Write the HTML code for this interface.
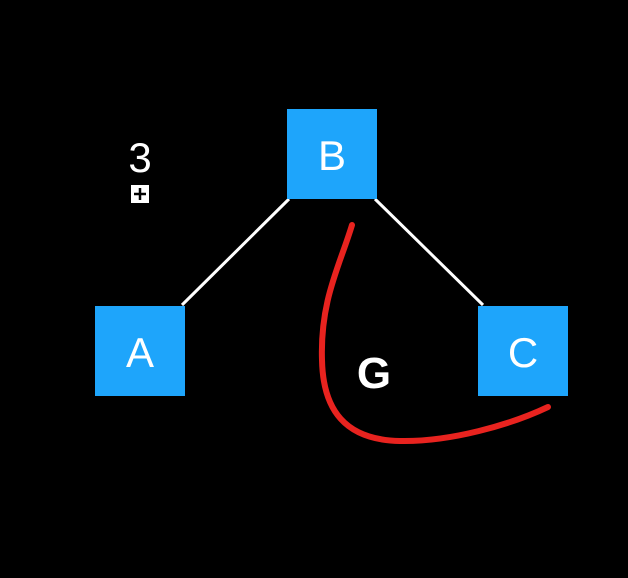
<!DOCTYPE html>
<html><head><style>body{margin:0;background:#000;}svg{display:block}</style></head>
<body>
<svg width="628" height="578" xmlns="http://www.w3.org/2000/svg">
<rect width="628" height="578" fill="#000"/>
<line x1="289" y1="199" x2="182" y2="305" stroke="#fff" stroke-width="3"/>
<line x1="375" y1="199" x2="483" y2="305" stroke="#fff" stroke-width="3"/>
<rect x="287" y="109" width="90" height="90" fill="#1ea5fb"/>
<rect x="95" y="306" width="90" height="90" fill="#1ea5fb"/>
<rect x="478" y="306" width="90" height="90" fill="#1ea5fb"/>
<g font-family="Liberation Sans, sans-serif" fill="#fff" text-anchor="middle">
<text x="332" y="170" font-size="42">B</text>
<text x="140" y="367" font-size="42">A</text>
<text x="523" y="367" font-size="42">C</text>
<text x="374" y="388" font-size="44" font-weight="bold">G</text>
<text x="140" y="172" font-size="42">3</text>
</g>
<rect x="131" y="185" width="18" height="18" fill="#fff"/>
<path d="M140 188v12M134 194h12" stroke="#000" stroke-width="2.5"/>
<path d="M352 225 C 340 265, 320 300, 322 360 C 323 410, 345 440, 400 441 C 450 442, 510 425, 548 407" fill="none" stroke="#e8231f" stroke-width="6" stroke-linecap="round"/>
</svg>
</body></html>
